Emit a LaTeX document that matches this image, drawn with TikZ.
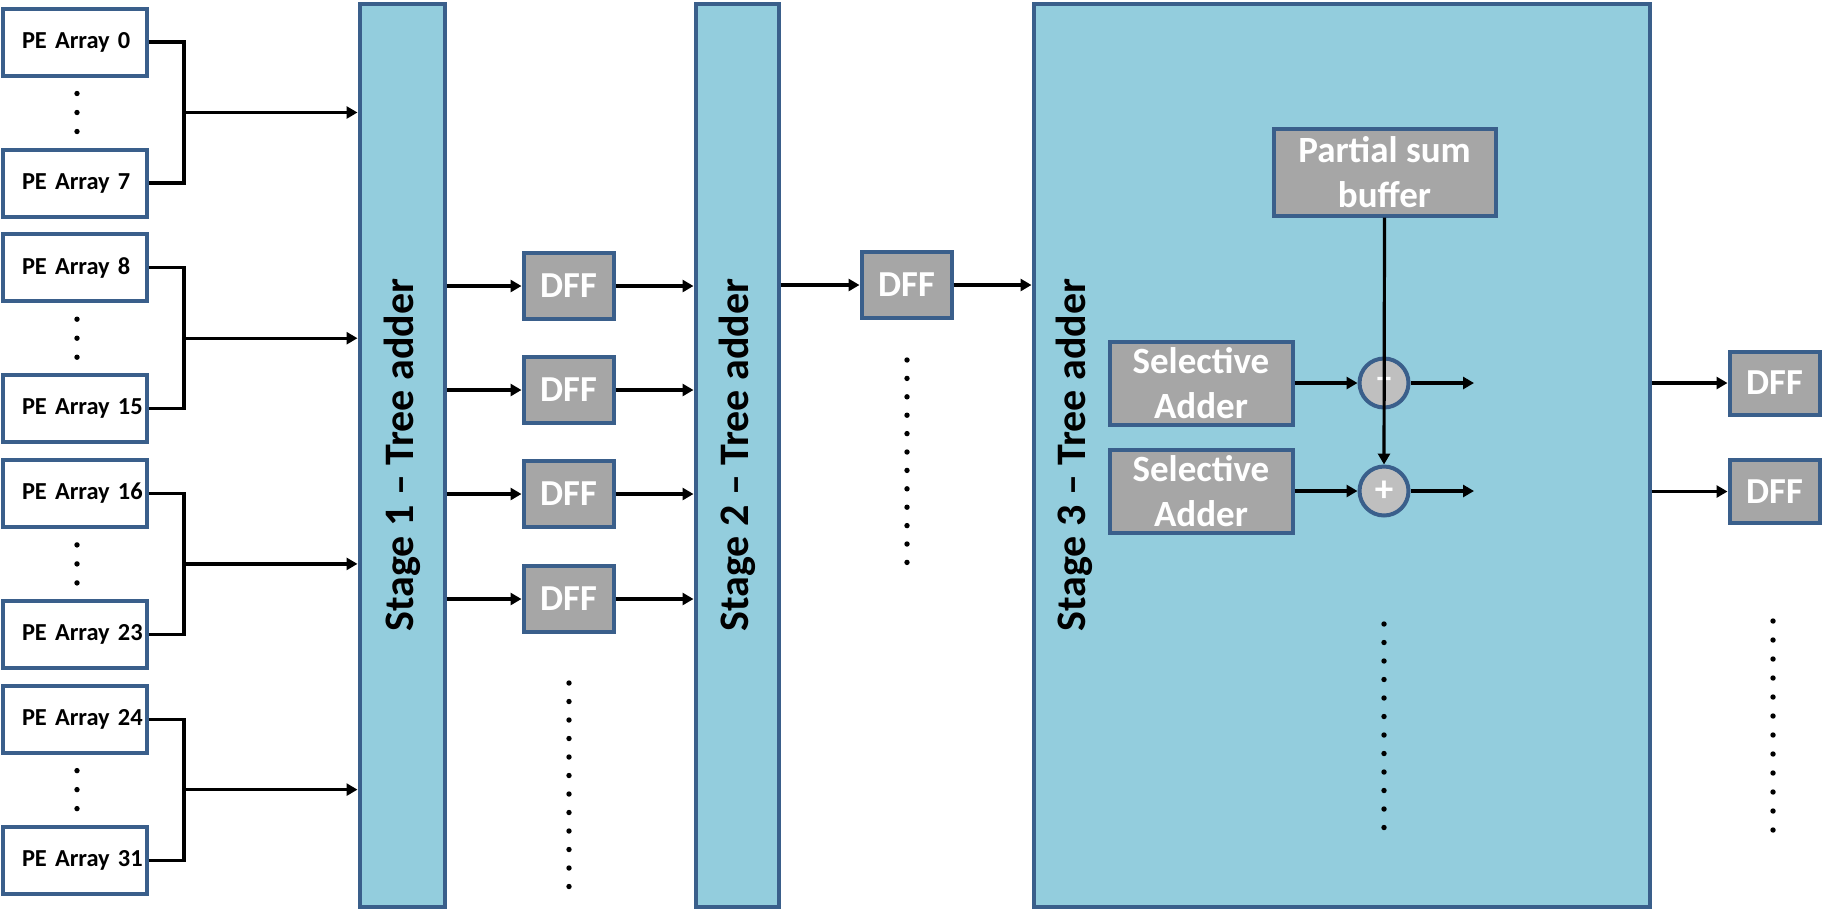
\documentclass[tikz,border=0pt]{standalone}
\usepackage{fontspec}
\setmainfont{Carlito}
\usetikzlibrary{arrows.meta}
\definecolor{stgblue}{HTML}{93CDDD}
\definecolor{edge}{HTML}{3A5F8B}
\definecolor{boxgray}{HTML}{A6A6A6}
\definecolor{opgray}{HTML}{BFBFBF}
\newcommand{\pelabel}[1]{\rlap{PE Array #1}}
\tikzstyle{pe}=[rectangle,draw=edge,line width=4pt,fill=white,minimum height=67pt,text width=105pt,inner xsep=19.5pt,align=left,font=\fontsize{24.4}{29}\selectfont\bfseries]
\tikzstyle{stg}=[rectangle,draw=edge,line width=4pt,fill=stgblue,minimum height=903pt]
\tikzstyle{stglbl}=[rotate=90,font=\fontsize{42}{50}\selectfont\bfseries]
\tikzstyle{dff}=[rectangle,draw=edge,line width=4pt,fill=boxgray,text=white,minimum width=90pt,minimum height=66pt,inner sep=0pt,font=\fontsize{36.6}{44}\selectfont\bfseries]
\tikzstyle{gbox}=[dff,align=center,font=\fontsize{37}{45}\selectfont\bfseries]
\tikzstyle{op}=[circle,draw=edge,line width=4pt,fill=opgray,text=white,minimum size=49pt,inner sep=0pt,font=\fontsize{37}{45}\selectfont\bfseries]
\tikzstyle{wire}=[line width=3.2pt]
\tikzstyle{arr}=[wire,-{Triangle[length=11pt,width=12pt]}]

\begin{document}
\begin{tikzpicture}[x=1pt,y=-1pt]
\useasboundingbox (0,0) rectangle (1827,914);
% stages
\node[stg,minimum width=85pt] (st1) at (402,455) {};
\node[stg,minimum width=83pt] (st2) at (737,455) {};
\node[stg,minimum width=616pt] (st3) at (1341.5,455) {};
\node[stglbl] (st1l) at (st1.center) {Stage 1 -- Tree adder};
\node[stglbl] (st2l) at (st2.center) {Stage 2 -- Tree adder};
\node[stglbl] (st3l) at (1074,455) {Stage 3 -- Tree adder};

% PE arrays
\foreach \g/\a/\b in {0/0/7,1/8/15,2/16/23,3/24/31}{
  \pgfmathsetmacro{\yt}{42+225.7*\g}
  \node[pe] (pe\a) at (74.5,\yt) {\pelabel{\a}};
  \node[pe] (pe\b) at (74.5,\yt+141) {\pelabel{\b}};
  \coordinate (j\g) at (184,\yt+70.5);
  \draw[wire] (pe\a.east) -| (j\g) |- (pe\b.east);
  \draw[arr] (j\g) -- (j\g -| st1.west);
  \foreach \d in {-19,0,19} \fill (77,\yt+70.5+\d) circle (2.7);
}

% first DFF column
\foreach \i/\y in {1/286,2/390,3/494,4/599}{
  \node[dff] (da\i) at (568.5,\y) {DFF};
  \draw[arr] (da\i.west -| st1.east) -- (da\i.west);
  \draw[arr] (da\i.east) -- (da\i.east -| st2.west);
}
\foreach \k in {0,...,11} \fill (569,683+18.5*\k) circle (2.7);

% second DFF column
\node[dff] (db1) at (906.5,285) {DFF};
\draw[arr] (db1.west -| st2.east) -- (db1.west);
\draw[arr] (db1.east) -- (db1.east -| st3.west);
\foreach \k in {0,...,11} \fill (907,360+18.4*\k) circle (2.7);

% stage 3 inside
\node[gbox,minimum width=222pt,minimum height=87pt] (psb) at (1384.5,172) {Partial sum\\buffer};
\node[gbox,minimum width=183pt,minimum height=83pt] (sa1) at (1201,383) {Selective\\Adder};
\node[gbox,minimum width=183pt,minimum height=83pt] (sa2) at (1201,491) {Selective\\Adder};
\node[op] (sub) at (1384,383) {--};
\node[op] (add) at (1384,491) {+};
\coordinate (o1) at (1474,383);
\coordinate (o2) at (1474,491);
\draw[arr] (sa1.east) -- (sub.west);
\draw[arr] (sa2.east) -- (add.west);
\draw[arr] (sub.east) -- (o1);
\draw[arr] (add.east) -- (o2);
\draw[arr] (psb.south) -- (add.north);
\foreach \k in {0,...,11} \fill (1384,624+18.5*\k) circle (2.7);

% output DFFs
\node[dff,minimum width=90pt,minimum height=63pt] (dc1) at (1774.5,383) {DFF};
\node[dff,minimum width=90pt,minimum height=63pt] (dc2) at (1774.5,491.5) {DFF};
\draw[arr] (dc1.west -| st3.east) -- (dc1.west);
\draw[arr] (dc2.west -| st3.east) -- (dc2.west);
\foreach \k in {0,...,11} \fill (1773,621+19*\k) circle (2.7);
\end{tikzpicture}
\end{document}
